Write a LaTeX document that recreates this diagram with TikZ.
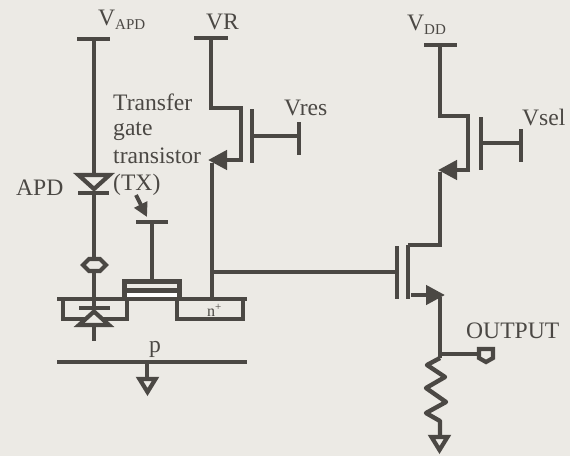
\documentclass[tikz,border=0pt]{standalone}
\usepackage{fontspec}
\setmainfont{Liberation Serif}
\usetikzlibrary{arrows.meta}
\definecolor{inkc}{HTML}{4B4844}
\definecolor{paperc}{HTML}{ECEAE5}
\newcommand{\sbs}[1]{\raisebox{-4pt}{\fontsize{15}{15}\selectfont #1}}
\tikzset{
  wire/.style={draw=inkc,line width=4.4pt},
  wirearrow/.style={wire,-{Triangle[length=19pt,width=19pt,fill=inkc]}},
  txarrow/.style={draw=inkc,line width=4pt,-{Triangle[length=14pt,width=14pt,fill=inkc]}},
  hollow/.style={draw=inkc,line width=4.2pt,fill=paperc,line join=miter},
  lab/.style={anchor=base west,inner sep=0pt,text=inkc,font=\fontsize{23.6}{27}\selectfont},
}
\begin{document}
\begin{tikzpicture}[x=1pt,y=-1pt]
  \fill[paperc] (0,0) rectangle (570,456);
  \useasboundingbox (0,0) rectangle (570,456);
  % labels
  \node[lab] (vapd) at (98,25) {V\sbs{APD}};
  \node[lab] (vr) at (206,29) {VR};
  \node[lab] (vdd) at (407,30) {V\sbs{DD}};
  \node[lab] (vres) at (284,115) {Vres};
  \node[lab] (vsel) at (522,125) {Vsel};
  \node[lab] (tfr) at (113,110) {Transfer};
  \node[lab] (gate) at (113,135) {gate};
  \node[lab] (trs) at (113,163) {transistor};
  \node[lab] (tx) at (113,190) {(TX)};
  \node[lab] (apd) at (16,195) {APD};
  \node[lab] (pdop) at (149,352) {p};
  \node[lab] (outp) at (466,338) {OUTPUT};
  \node[lab,font=\fontsize{16}{16}\selectfont] (ndop) at (207,316) {n\raisebox{6pt}{\fontsize{11}{11}\selectfont +}};
  % APD branch
  \draw[wire] (77,39)--(110,39);
  \draw[wire] (94,39)--(94,175);
  \draw[hollow] (78.5,175)--(109.5,175)--(94,189)--cycle;
  \draw[wire] (78,193)--(109,193);
  \draw[wire] (94,193)--(94,298);
  \draw[hollow] (83,265)--(89,259)--(100,259)--(106,265)--(100,271)--(89,271)--cycle;
  % wells and gate stack
  \fill[inkc] (122,279) rectangle (182,301);
  \fill[paperc] (127,283.5) rectangle (177,288);
  \fill[white] (127,293) rectangle (177,297);
  \draw[wire] (57,299)--(127,299);
  \draw[wire] (177,299)--(247,299);
  \draw[wire] (63,299)--(63,319)--(127,319)--(127,299);
  \draw[wire] (177,299)--(177,319)--(243,319)--(243,299);
  \draw[wire] (79,308)--(110,308);
  \draw[wire] (94,298)--(94,310);
  \draw[hollow] (94,311.5)--(109,325)--(79,325)--cycle;
  \draw[wire] (94,325)--(94,341);
  % TX gate
  \draw[wire] (136,222)--(168,222);
  \draw[wire] (152,222)--(152,279);
  \draw[txarrow] (136,195)--(147,217);
  % substrate
  \draw[wire] (57,362)--(247,362);
  \draw[wire] (147,362)--(147,378);
  \draw[hollow] (139.5,379)--(155.5,379)--(147.5,392)--cycle;
  % reset transistor
  \draw[wire] (194,38)--(228,38);
  \draw[wire] (211,38)--(211,108)--(241,108)--(241,160);
  \draw[wirearrow] (243,160)--(208,160);
  \draw[wire] (212,299)--(212,163);
  \draw[wire] (252,109)--(252,163);
  \draw[wire] (254,136)--(299,136);
  \draw[wire] (299,122)--(299,155);
  % source follower and select
  \draw[wire] (212,272)--(395,272);
  \draw[wire] (397,246)--(397,299);
  \draw[wire] (408,245)--(408,299);
  \draw[wire] (408,245)--(440,245)--(440,172);
  \draw[wire] (424,45)--(457,45);
  \draw[wire] (440,45)--(440,116)--(468,116)--(468,170);
  \draw[wirearrow] (470,170)--(438,170);
  \draw[wire] (481,117)--(481,170);
  \draw[wire] (483,143)--(521,143);
  \draw[wire] (521,129)--(521,162);
  \draw[wirearrow] (411,295)--(445,295);
  % output and load
  \draw[wire] (440,297)--(440,358);
  \draw[wire] (440,354)--(478,354);
  \draw[hollow] (479,349)--(493,349)--(493,358)--(486,362)--(479,358)--cycle;
  \draw[wire,line join=round] (440,358)--(427,365)--(445,377)--(426,388)--(446,402)--(426,413)--(440,421)--(440,437);
  \draw[hollow] (431.5,437)--(447.5,437)--(439.5,450)--cycle;
\end{tikzpicture}
\end{document}
